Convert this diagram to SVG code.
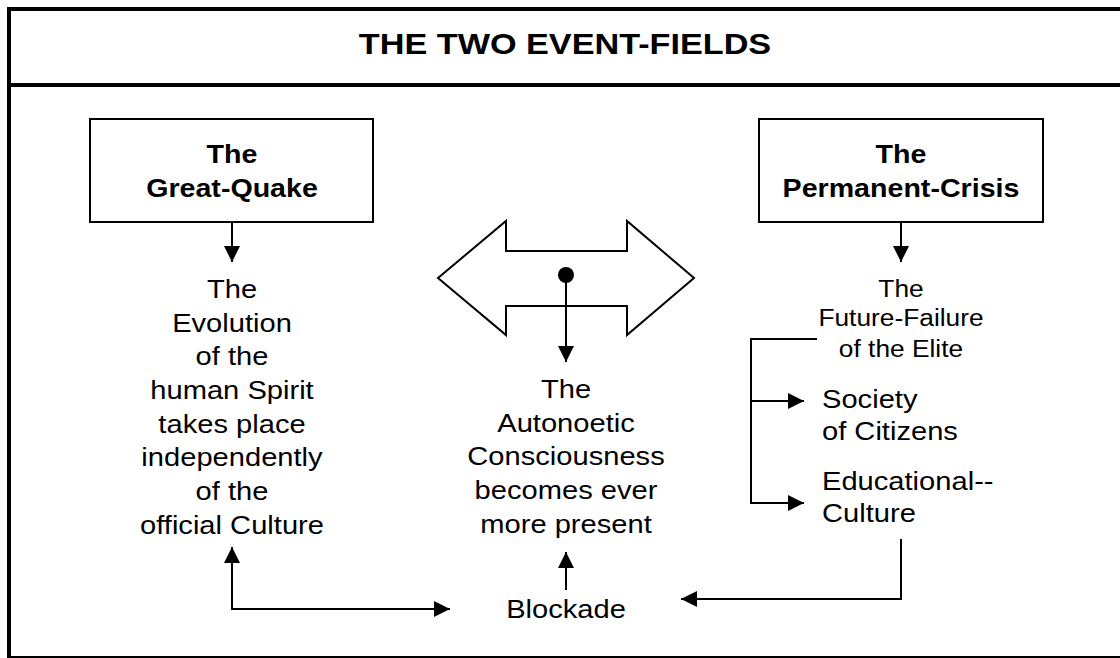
<svg xmlns="http://www.w3.org/2000/svg" width="1120" height="658" viewBox="0 0 1120 658">
<style>
.t{font-family:"Liberation Sans",Arial,sans-serif;fill:#000;text-anchor:middle}
.b{font-weight:bold;font-size:26px}
.n{font-size:26px}
.s{font-size:23.5px}
.l{text-anchor:start}
.box{fill:#fff;stroke:#000;stroke-width:2}
.c{fill:none;stroke:#000;stroke-width:2}
.frame{stroke:#000;fill:none}
</style>
<defs>
<marker id="ah" markerUnits="userSpaceOnUse" markerWidth="16" markerHeight="16" viewBox="0 0 15 15" refX="15" refY="7.5" orient="auto-start-reverse">
<path d="M0,0 L15,7.5 L0,15 z" fill="#000"/>
</marker>
</defs>
<rect width="1120" height="658" fill="#fff"/>
<g id="frame">
<line class="frame" x1="7" y1="9" x2="1120" y2="9" stroke-width="4"/>
<line class="frame" x1="9" y1="7" x2="9" y2="658" stroke-width="4"/>
<line class="frame" x1="7" y1="85" x2="1120" y2="85" stroke-width="4"/>
<line class="frame" x1="7" y1="657" x2="1120" y2="657" stroke-width="2"/>
</g>
<g id="title">
<g transform="translate(565,0) scale(1.18,1)"><text class="t" x="0" y="54" font-size="29" font-weight="bold">THE TWO EVENT-FIELDS</text></g>
</g>
<g id="great-quake">
<rect class="box" x="90" y="119" width="283" height="103"/>
<g transform="translate(232,0) scale(1.1,1)">
<text class="t b" x="0" y="163">The</text>
<text class="t b" x="0" y="197">Great-Quake</text>
</g>
</g>
<g id="permanent-crisis">
<rect class="box" x="759" y="119" width="284" height="103"/>
<g transform="translate(901,0) scale(1.1,1)">
<text class="t b" x="0" y="163">The</text>
<text class="t b" x="0" y="197">Permanent-Crisis</text>
</g>
</g>
<g id="evolution">
<g transform="translate(232,0) scale(1.12,1)">
<text class="t n" x="0" y="298">The</text>
<text class="t n" x="0" y="332">Evolution</text>
<text class="t n" x="0" y="365.5">of the</text>
<text class="t n" x="0" y="399">human Spirit</text>
<text class="t n" x="0" y="433">takes place</text>
<text class="t n" x="0" y="466.5">independently</text>
<text class="t n" x="0" y="500">of the</text>
<text class="t n" x="0" y="534">official Culture</text>
</g>
</g>
<g id="double-arrow">
<polygon points="438,278 506,221 506,251 627,251 627,221 694,278 627,335 627,306 506,306 506,335" fill="#fff" stroke="#000" stroke-width="2"/>
</g>
<g id="autonoetic">
<g transform="translate(566,0) scale(1.12,1)">
<text class="t n" x="0" y="398">The</text>
<text class="t n" x="0" y="432">Autonoetic</text>
<text class="t n" x="0" y="465.5">Consciousness</text>
<text class="t n" x="0" y="499">becomes ever</text>
<text class="t n" x="0" y="533">more present</text>
</g>
</g>
<g id="future-failure">
<g transform="translate(901,0) scale(1.12,1)">
<text class="t s" x="0" y="297">The</text>
<text class="t s" x="0" y="326">Future-Failure</text>
<text class="t s" x="0" y="357">of the Elite</text>
</g>
</g>
<g id="society">
<g transform="translate(822,0) scale(1.12,1)">
<text class="t n l" x="0" y="408">Society</text>
<text class="t n l" x="0" y="440">of Citizens</text>
</g>
</g>
<g id="educational">
<g transform="translate(822,0) scale(1.12,1)">
<text class="t n l" x="0" y="490">Educational--</text>
<text class="t n l" x="0" y="522">Culture</text>
</g>
</g>
<g id="blockade">
<g transform="translate(566,0) scale(1.12,1)">
<text class="t n" x="0" y="618">Blockade</text>
</g>
</g>
<g id="connectors">
<path class="c" d="M232,222 L232,262" marker-end="url(#ah)"/>
<path class="c" d="M901,222 L901,262" marker-end="url(#ah)"/>
<circle cx="566" cy="275" r="8" fill="#000"/>
<path class="c" d="M566,275 L566,362" marker-end="url(#ah)"/>
<path class="c" d="M817,339 L751,339 L751,503 L804,503" marker-end="url(#ah)"/>
<path class="c" d="M751,401 L804,401" marker-end="url(#ah)"/>
<path class="c" d="M232,547 L232,609 L450,609" marker-start="url(#ah)" marker-end="url(#ah)"/>
<path class="c" d="M566,590 L566,552" marker-end="url(#ah)"/>
<path class="c" d="M901,539 L901,599 L681,599" marker-end="url(#ah)"/>
</g>
</svg>
